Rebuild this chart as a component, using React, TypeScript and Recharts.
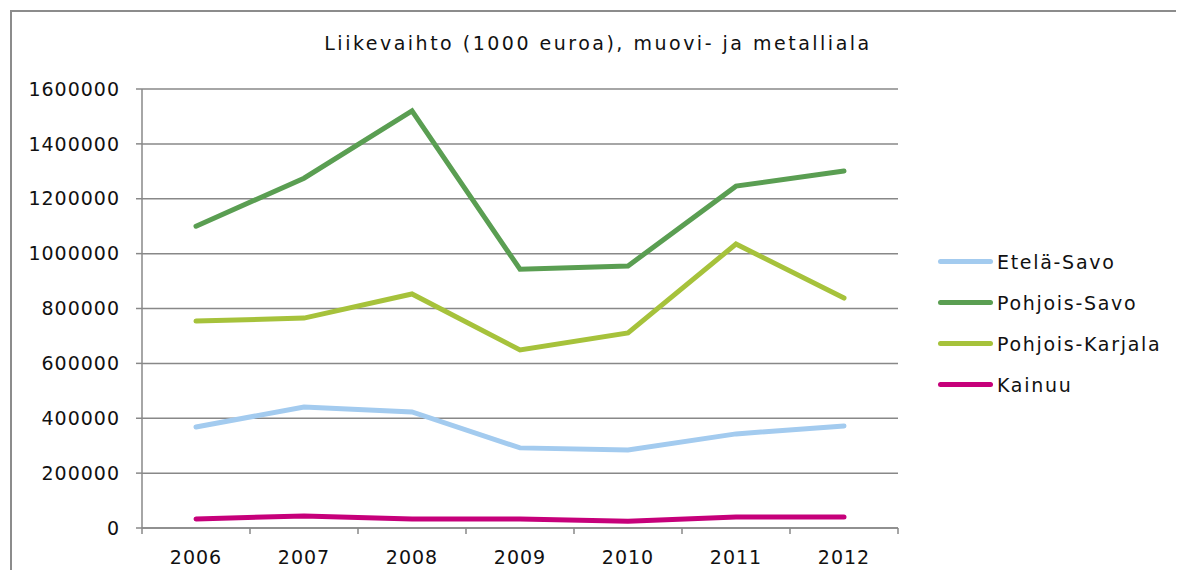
import { LineChart, Line, XAxis, YAxis, CartesianGrid } from 'recharts'

const years = ['2006', '2007', '2008', '2009', '2010', '2011', '2012']
const etelaSavo = [368000, 441000, 423000, 292000, 284000, 343000, 372000]
const pohjoisSavo = [1100000, 1275000, 1520000, 943000, 955000, 1246000, 1301000]
const pohjoisKarjala = [754000, 765000, 853000, 649000, 711000, 1035000, 838000]
const kainuu = [33000, 44000, 33000, 33000, 25000, 40000, 40000]
const yTicks = [0, 200000, 400000, 600000, 800000, 1000000, 1200000, 1400000, 1600000]

const series = [
  { key: 'etelaSavo', name: 'Etelä-Savo', color: '#a3cbef' },
  { key: 'pohjoisSavo', name: 'Pohjois-Savo', color: '#5a9e52' },
  { key: 'pohjoisKarjala', name: 'Pohjois-Karjala', color: '#a6c23b' },
  { key: 'kainuu', name: 'Kainuu', color: '#c6007a' },
]

const data = years.map((year, i) => ({
  year,
  etelaSavo: etelaSavo[i],
  pohjoisSavo: pohjoisSavo[i],
  pohjoisKarjala: pohjoisKarjala[i],
  kainuu: kainuu[i],
}))

const font = '"DejaVu Sans", Verdana, sans-serif'
const axisColor = '#888888'
const bandWidth = 756 / years.length

// category label in the middle, tick marks on the band edges (Excel style)
function XTick(props: any) {
  const { x, y, payload, index } = props
  const left = x - bandWidth / 2
  const right = x + bandWidth / 2
  return (
    <g>
      <line x1={left} y1={y} x2={left} y2={y + 6} stroke={axisColor} strokeWidth={1.5} />
      {index === years.length - 1 && (
        <line x1={right} y1={y} x2={right} y2={y + 6} stroke={axisColor} strokeWidth={1.5} />
      )}
      <text x={x} y={y + 36} textAnchor="middle" fill="#111" fontSize={19} letterSpacing={1} fontFamily={font}>
        {payload.value}
      </text>
    </g>
  )
}

function LegendBox() {
  return (
    <div style={{ fontFamily: font, fontSize: 19, letterSpacing: 1.7, color: '#111' }}>
      {series.map((s) => (
        <div key={s.key} style={{ display: 'flex', alignItems: 'center', height: 41 }}>
          <div style={{ width: 55, height: 5, borderRadius: 3, background: s.color, marginRight: 4 }} />
          <span>{s.name}</span>
        </div>
      ))}
    </div>
  )
}

export default function App() {
  return (
    <div style={{ position: 'relative', width: 1168, height: 562, overflow: 'hidden', background: '#fff' }}>
      <div
        style={{
          position: 'absolute',
          left: 2,
          top: 2,
          width: 1200,
          height: 600,
          border: '2px solid #8c8c8c',
          boxSizing: 'border-box',
        }}
      />
      <div
        style={{
          position: 'absolute',
          left: 0,
          width: 1180,
          top: 24,
          textAlign: 'center',
          fontFamily: font,
          fontSize: 19,
          letterSpacing: 2.5,
          color: '#111',
        }}
      >
        Liikevaihto (1000 euroa), muovi- ja metalliala
      </div>
      <LineChart
        width={1168}
        height={562}
        data={data}
        margin={{ top: 81, right: 278, bottom: 0, left: 0 }}
      >
        <CartesianGrid vertical={false} stroke={axisColor} strokeWidth={1.5} />
        <XAxis
          dataKey="year"
          scale="band"
          height={42}
          tickSize={0}
          tickMargin={0}
          stroke={axisColor}
          strokeWidth={1.5}
          tick={<XTick />}
          interval={0}
        />
        <YAxis
          width={134}
          domain={[0, 1600000]}
          ticks={yTicks}
          interval={0}
          tickSize={6}
          tickMargin={16}
          stroke={axisColor}
          strokeWidth={1.5}
          tick={{ fill: '#111', fontSize: 19, fontFamily: font, letterSpacing: 1 }}
        />
        {series.map((s) => (
          <Line
            key={s.key}
            type="linear"
            dataKey={s.key}
            name={s.name}
            stroke={s.color}
            strokeWidth={5}
            strokeLinecap="round"
            dot={false}
            activeDot={false}
            isAnimationActive={false}
          />
        ))}
      </LineChart>
      <div style={{ position: 'absolute', left: 930, top: 233 }}>
        <LegendBox />
      </div>
    </div>
  )
}
